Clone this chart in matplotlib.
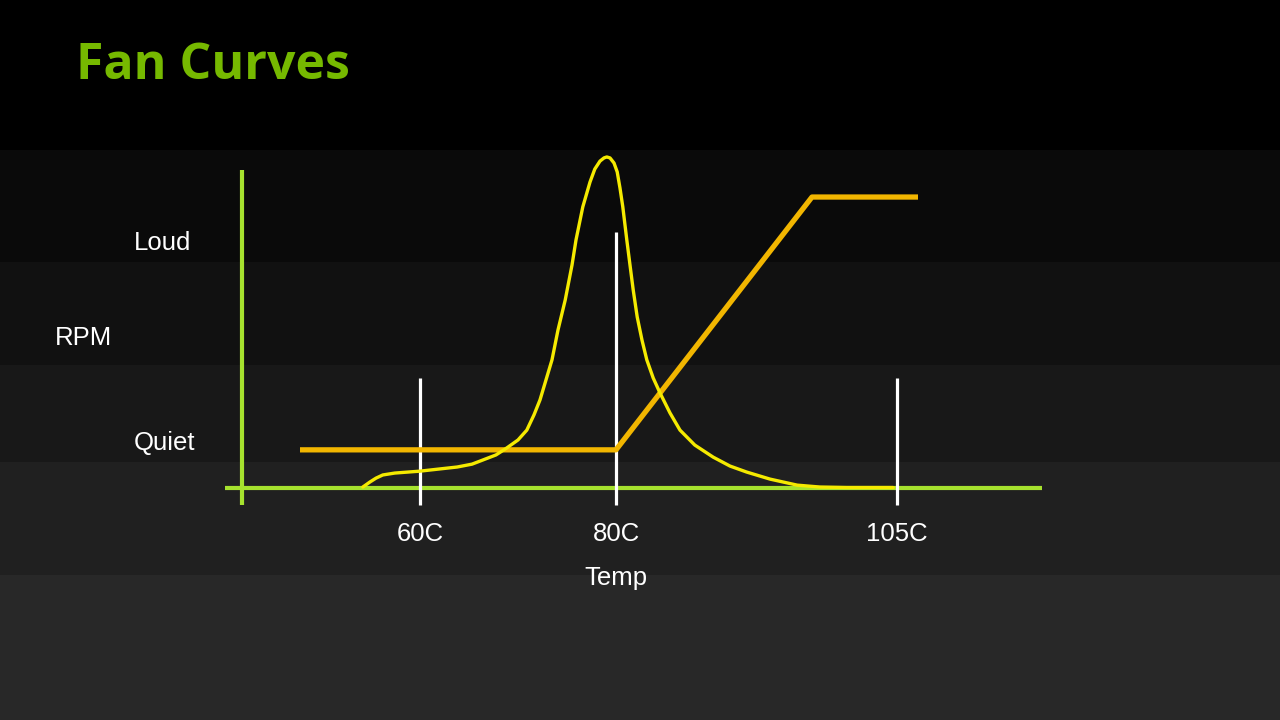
import matplotlib
matplotlib.use("Agg")
import matplotlib.pyplot as plt

# schematic units: x 0..100 across the temp axis, y 0..100 up the RPM axis
temp_ticks = [22.25, 46.75, 81.9]
temp_labels = ["60C", "80C", "105C"]
marker_tops = [34.6, 80.5, 34.6]

rpm_labels = ["Loud", "Quiet"]
rpm_label_y = [77.0, 14.2]

fan_x = [7.25, 46.75, 71.25, 84.5]
fan_y = [12.0, 12.0, 91.5, 91.5]

load_x = [15.1, 16.0, 16.75, 17.6, 19.1, 22.25, 24.75, 26.9, 28.75, 30.1,
          31.75, 33.1, 34.5, 35.6, 36.5, 37.25, 38.0, 38.75, 39.5, 40.4,
          41.25, 41.75, 42.6, 43.5, 44.1, 44.75, 45.25, 45.6, 46.0, 46.5,
          46.9, 47.25, 47.6, 48.1, 48.5, 48.9, 49.4, 50.0, 50.6, 51.4,
          52.25, 53.5, 54.75, 56.6, 58.9, 61.0, 63.1, 66.0, 69.4, 72.25,
          75.6, 81.4]
load_y = [0.3, 1.9, 3.1, 4.1, 4.7, 5.3, 6.0, 6.6, 7.5, 8.8,
          10.4, 12.6, 15.1, 18.2, 23.0, 27.7, 34.0, 40.3, 49.7, 59.1,
          70.1, 78.0, 88.4, 96.2, 100.3, 102.8, 103.8, 104.1, 103.8, 102.2,
          99.4, 94.3, 88.4, 78.0, 70.1, 62.3, 53.8, 46.5, 40.3, 34.6,
          29.9, 23.6, 18.2, 13.5, 9.7, 6.9, 5.0, 2.8, 0.9, 0.3,
          0.15, 0.15]

band_edges = [0, 150, 262, 365, 462, 575, 720]
band_colors = ["#000000", "#0a0a0a", "#111111", "#181818", "#202020", "#282828"]

GREEN_AXIS = "#a6e22e"
YELLOW = "#f5ea00"
ORANGE = "#f2b600"
TITLE_GREEN = "#76b900"
font = "Liberation Sans"

fig = plt.figure(figsize=(12.8, 7.2), dpi=100)

# background bands
bg = fig.add_axes([0, 0, 1, 1])
bg.set_xlim(0, 1)
bg.set_ylim(720, 0)
for i in range(len(band_colors)):
    bg.axhspan(band_edges[i], band_edges[i + 1], color=band_colors[i], lw=0)
bg.axis("off")

ax = fig.add_axes([242 / 1280, (720 - 488) / 720, 800 / 1280, 318 / 720])
ax.set_xlim(0, 100)
ax.set_ylim(0, 100)
ax.axis("off")
ax.patch.set_alpha(0)

# axes lines
ax.plot([0, 0], [-5.3, 100], color=GREEN_AXIS, lw=3, clip_on=False, solid_capstyle="butt")
ax.plot([-2.1, 100], [0, 0], color=GREEN_AXIS, lw=3, clip_on=False, solid_capstyle="butt")

# temperature markers
for x, top in zip(temp_ticks, marker_tops):
    ax.plot([x, x], [-5.3, top], color="white", lw=2.3, clip_on=False, solid_capstyle="butt")

ax.plot(fan_x, fan_y, color=ORANGE, lw=3.8, clip_on=False, solid_capstyle="butt", zorder=4)
ax.plot(load_x, load_y, color=YELLOW, lw=2.4, clip_on=False, zorder=5,
        solid_joinstyle="round", solid_capstyle="round")

for x, lab in zip(temp_ticks, temp_labels):
    ax.text(x, -14.5, lab, color="white", fontsize=18.5, family=font,
            ha="center", va="center", clip_on=False)
for y, lab in zip(rpm_label_y, rpm_labels):
    ax.text(-13.5, y, lab, color="white", fontsize=18.5, family=font,
            ha="left", va="center", clip_on=False)
ax.text(-23.4, 47.2, "RPM", color="white", fontsize=18.5, family=font,
        ha="left", va="center", clip_on=False)
ax.text(46.75, -28.3, "Temp", color="white", fontsize=18.5, family=font,
        ha="center", va="center", clip_on=False)

fig.text(76 / 1280, (720 - 79) / 720, "Fan Curves", color=TITLE_GREEN,
         fontsize=36, fontweight="bold", family="Open Sans", ha="left", va="baseline")

fig.savefig("out.png", dpi=100, facecolor="black")
